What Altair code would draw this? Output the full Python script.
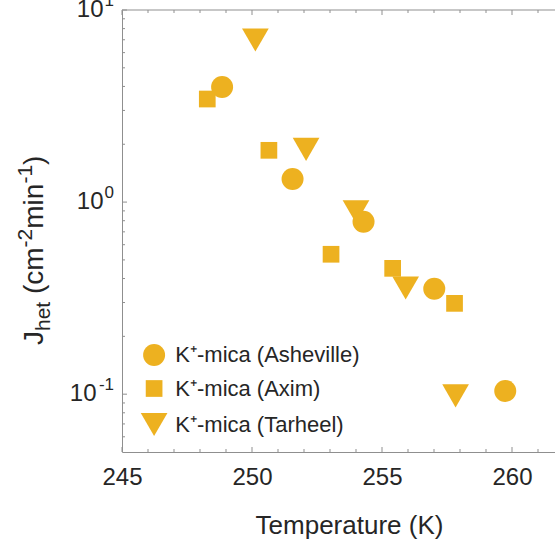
import altair as alt
import pandas as pd

FONT = "Liberation Sans, Arial, Helvetica, sans-serif"
TXT = "#262626"
GOLD = "#EDB120"
AXC = "#8f8f8f"

W, H = 433, 442

# ---- data ----
series_names = ["K⁺-mica (Asheville)", "K⁺-mica (Axim)", "K⁺-mica (Tarheel)"]
series_shapes = ["circle", "square", "M-1,-0.866L1,-0.866L0,0.866Z"]
series_sizes = [484, 279, 713]

asheville_T = [248.85, 251.56, 254.29, 257.01, 259.74]
asheville_J = [3.97, 1.32, 0.79, 0.354, 0.104]
axim_T = [248.28, 250.65, 253.04, 255.41, 257.79]
axim_J = [3.44, 1.86, 0.535, 0.452, 0.297]
tarheel_T = [250.13, 252.08, 254.0, 255.91, 257.83]
tarheel_J = [6.98, 1.88, 0.89, 0.357, 0.098]

x_major = [245, 250, 255, 260]
x_minor = [246, 247, 248, 249, 251, 252, 253, 254, 256, 257, 258, 259, 261]
y_major = [0.1, 1, 10]
y_exponents = ["-1", "0", "1"]
y_minor = [0.06, 0.07, 0.08, 0.09, 0.2, 0.3, 0.4, 0.5, 0.6, 0.7, 0.8, 0.9,
           2, 3, 4, 5, 6, 7, 8, 9]

x_title = "Temperature (K)"
y_title_parts = [("J", "n"), ("het", "sub"), ("(", "n"), ("cm", "n"),
                 ("-2", "sup"), ("min", "n"), ("-1", "sup"), (")", "n")]

x_domain = [245, 245 + W / 26.0]
y_domain = [0.05, 10]

xscale = alt.Scale(domain=x_domain, nice=False, zero=False)
yscale = alt.Scale(type="log", domain=y_domain, nice=False)

xaxis = alt.Axis(
    title=x_title, values=x_major, ticks=False, tickSize=0, grid=False,
    domainColor=AXC, domainWidth=1, labelFont=FONT, labelFontSize=24,
    labelColor=TXT, labelPadding=13, labelFlush=False, labelOverlap=False,
    labelBound=False, titleFont=FONT, titleFontSize=26, titleFontWeight="normal",
    titleColor=TXT, titleX=227, titleY=81, titleBaseline="alphabetic",
    titleAlign="center", format="d")
yaxis = alt.Axis(title=None, labels=False, ticks=False, tickSize=0, grid=False,
                 domainColor=AXC, domainWidth=1)

df = pd.DataFrame({
    "series": [series_names[0]] * 5 + [series_names[1]] * 5 + [series_names[2]] * 5,
    "T": asheville_T + axim_T + tarheel_T,
    "J": asheville_J + axim_J + tarheel_J,
    "order": [3] * 5 + [2] * 5 + [1] * 5,
})

legend = alt.Legend(
    title=None, orient="none", legendX=18.6, legendY=334, padding=0,
    labelFont=FONT, labelFontSize=22, labelColor=TXT, labelOffset=7.7,
    rowPadding=11.5, symbolFillColor=GOLD, symbolStrokeWidth=0, symbolOpacity=1,
    labelLimit=400,
)

points = alt.Chart(df).mark_point(filled=True, opacity=1, color=GOLD, strokeWidth=0).encode(
    x=alt.X("T:Q", scale=xscale, axis=xaxis),
    y=alt.Y("J:Q", scale=yscale, axis=yaxis),
    shape=alt.Shape("series:N", scale=alt.Scale(domain=series_names, range=series_shapes), legend=legend),
    size=alt.Size("series:N", scale=alt.Scale(type="ordinal", domain=series_names, range=series_sizes), legend=legend),
    order=alt.Order("order:Q"),
)

# inward ticks
xmaj = pd.DataFrame({"T": x_major})
xmin = pd.DataFrame({"T": x_minor})
ymaj = pd.DataFrame({"J": y_major})
ymin = pd.DataFrame({"J": y_minor})

def xticks(d, length):
    base = alt.Chart(d).mark_rule(color=AXC, strokeWidth=1)
    bot = base.encode(x=alt.X("T:Q", scale=xscale, axis=xaxis), y=alt.value(H), y2=alt.value(H - length))
    top = base.encode(x=alt.X("T:Q", scale=xscale, axis=xaxis), y=alt.value(0), y2=alt.value(length))
    return [bot, top]

def yticks(d, length):
    return [alt.Chart(d).mark_rule(color=AXC, strokeWidth=1).encode(
        y=alt.Y("J:Q", scale=yscale, axis=yaxis), x=alt.value(0), x2=alt.value(length))]

top_line = alt.Chart(pd.DataFrame({"a": [0]})).mark_rule(color=AXC, strokeWidth=1).encode(
    x=alt.value(0), x2=alt.value(W), y=alt.value(0))

# y tick labels 10^n composed of base and exponent
ylab_df = pd.DataFrame({"J": y_major, "e": y_exponents})
ybase_short = alt.Chart(ylab_df).transform_filter("length(datum.e) == 1").mark_text(
    align="right", baseline="middle", font=FONT, fontSize=24, color=TXT).encode(
    y=alt.Y("J:Q", scale=yscale, axis=yaxis), x=alt.value(-18.5), text=alt.value("10"))
ybase_long = alt.Chart(ylab_df).transform_filter("length(datum.e) > 1").mark_text(
    align="right", baseline="middle", font=FONT, fontSize=24, color=TXT).encode(
    y=alt.Y("J:Q", scale=yscale, axis=yaxis), x=alt.value(-25.5), text=alt.value("10"))
yexp = alt.Chart(ylab_df).mark_text(
    align="right", baseline="middle", font=FONT, fontSize=17, color=TXT, dy=-9).encode(
    y=alt.Y("J:Q", scale=yscale, axis=yaxis), x=alt.value(-8), text=alt.Text("e:N"))

# y title composed of pieces (rotated)
MAIN, SMALL = 28, 21
adv = {"J": 0.5, "het": 1.39, "(": 0.333, "cm": 1.333, "-2": 0.889, "min": 1.611, "-1": 0.889, ")": 0.333}
space = 0.278 * MAIN
ypos = 345 - 10
base_x = -79
title_layers = []
one = pd.DataFrame({"a": [0]})
for t, k in y_title_parts:
    fs = MAIN if k == "n" else SMALL
    bx = base_x + (7 if k == "sub" else (-11 if k == "sup" else 0))
    title_layers.append(alt.Chart(one).mark_text(
        align="left", baseline="alphabetic", angle=270, font=FONT, fontSize=fs, color=TXT).encode(
        x=alt.value(bx), y=alt.value(ypos), text=alt.value(t)))
    ypos -= adv[t] * fs
    if t == "het":
        ypos -= space

layers = [points] + xticks(xmaj, 5) + xticks(xmin, 3) + yticks(ymaj, 5) + yticks(ymin, 3) + \
    [top_line, ybase_short, ybase_long, yexp] + title_layers

chart = alt.layer(*layers).properties(
    width=W, height=H,
    autosize=alt.AutoSizeParams(type="none"),
    padding={"left": 122, "top": 10, "right": 0, "bottom": 92},
    background="white",
).configure_view(stroke=None)

chart.save("out.html", embed_options={"renderer": "svg", "actions": False})
